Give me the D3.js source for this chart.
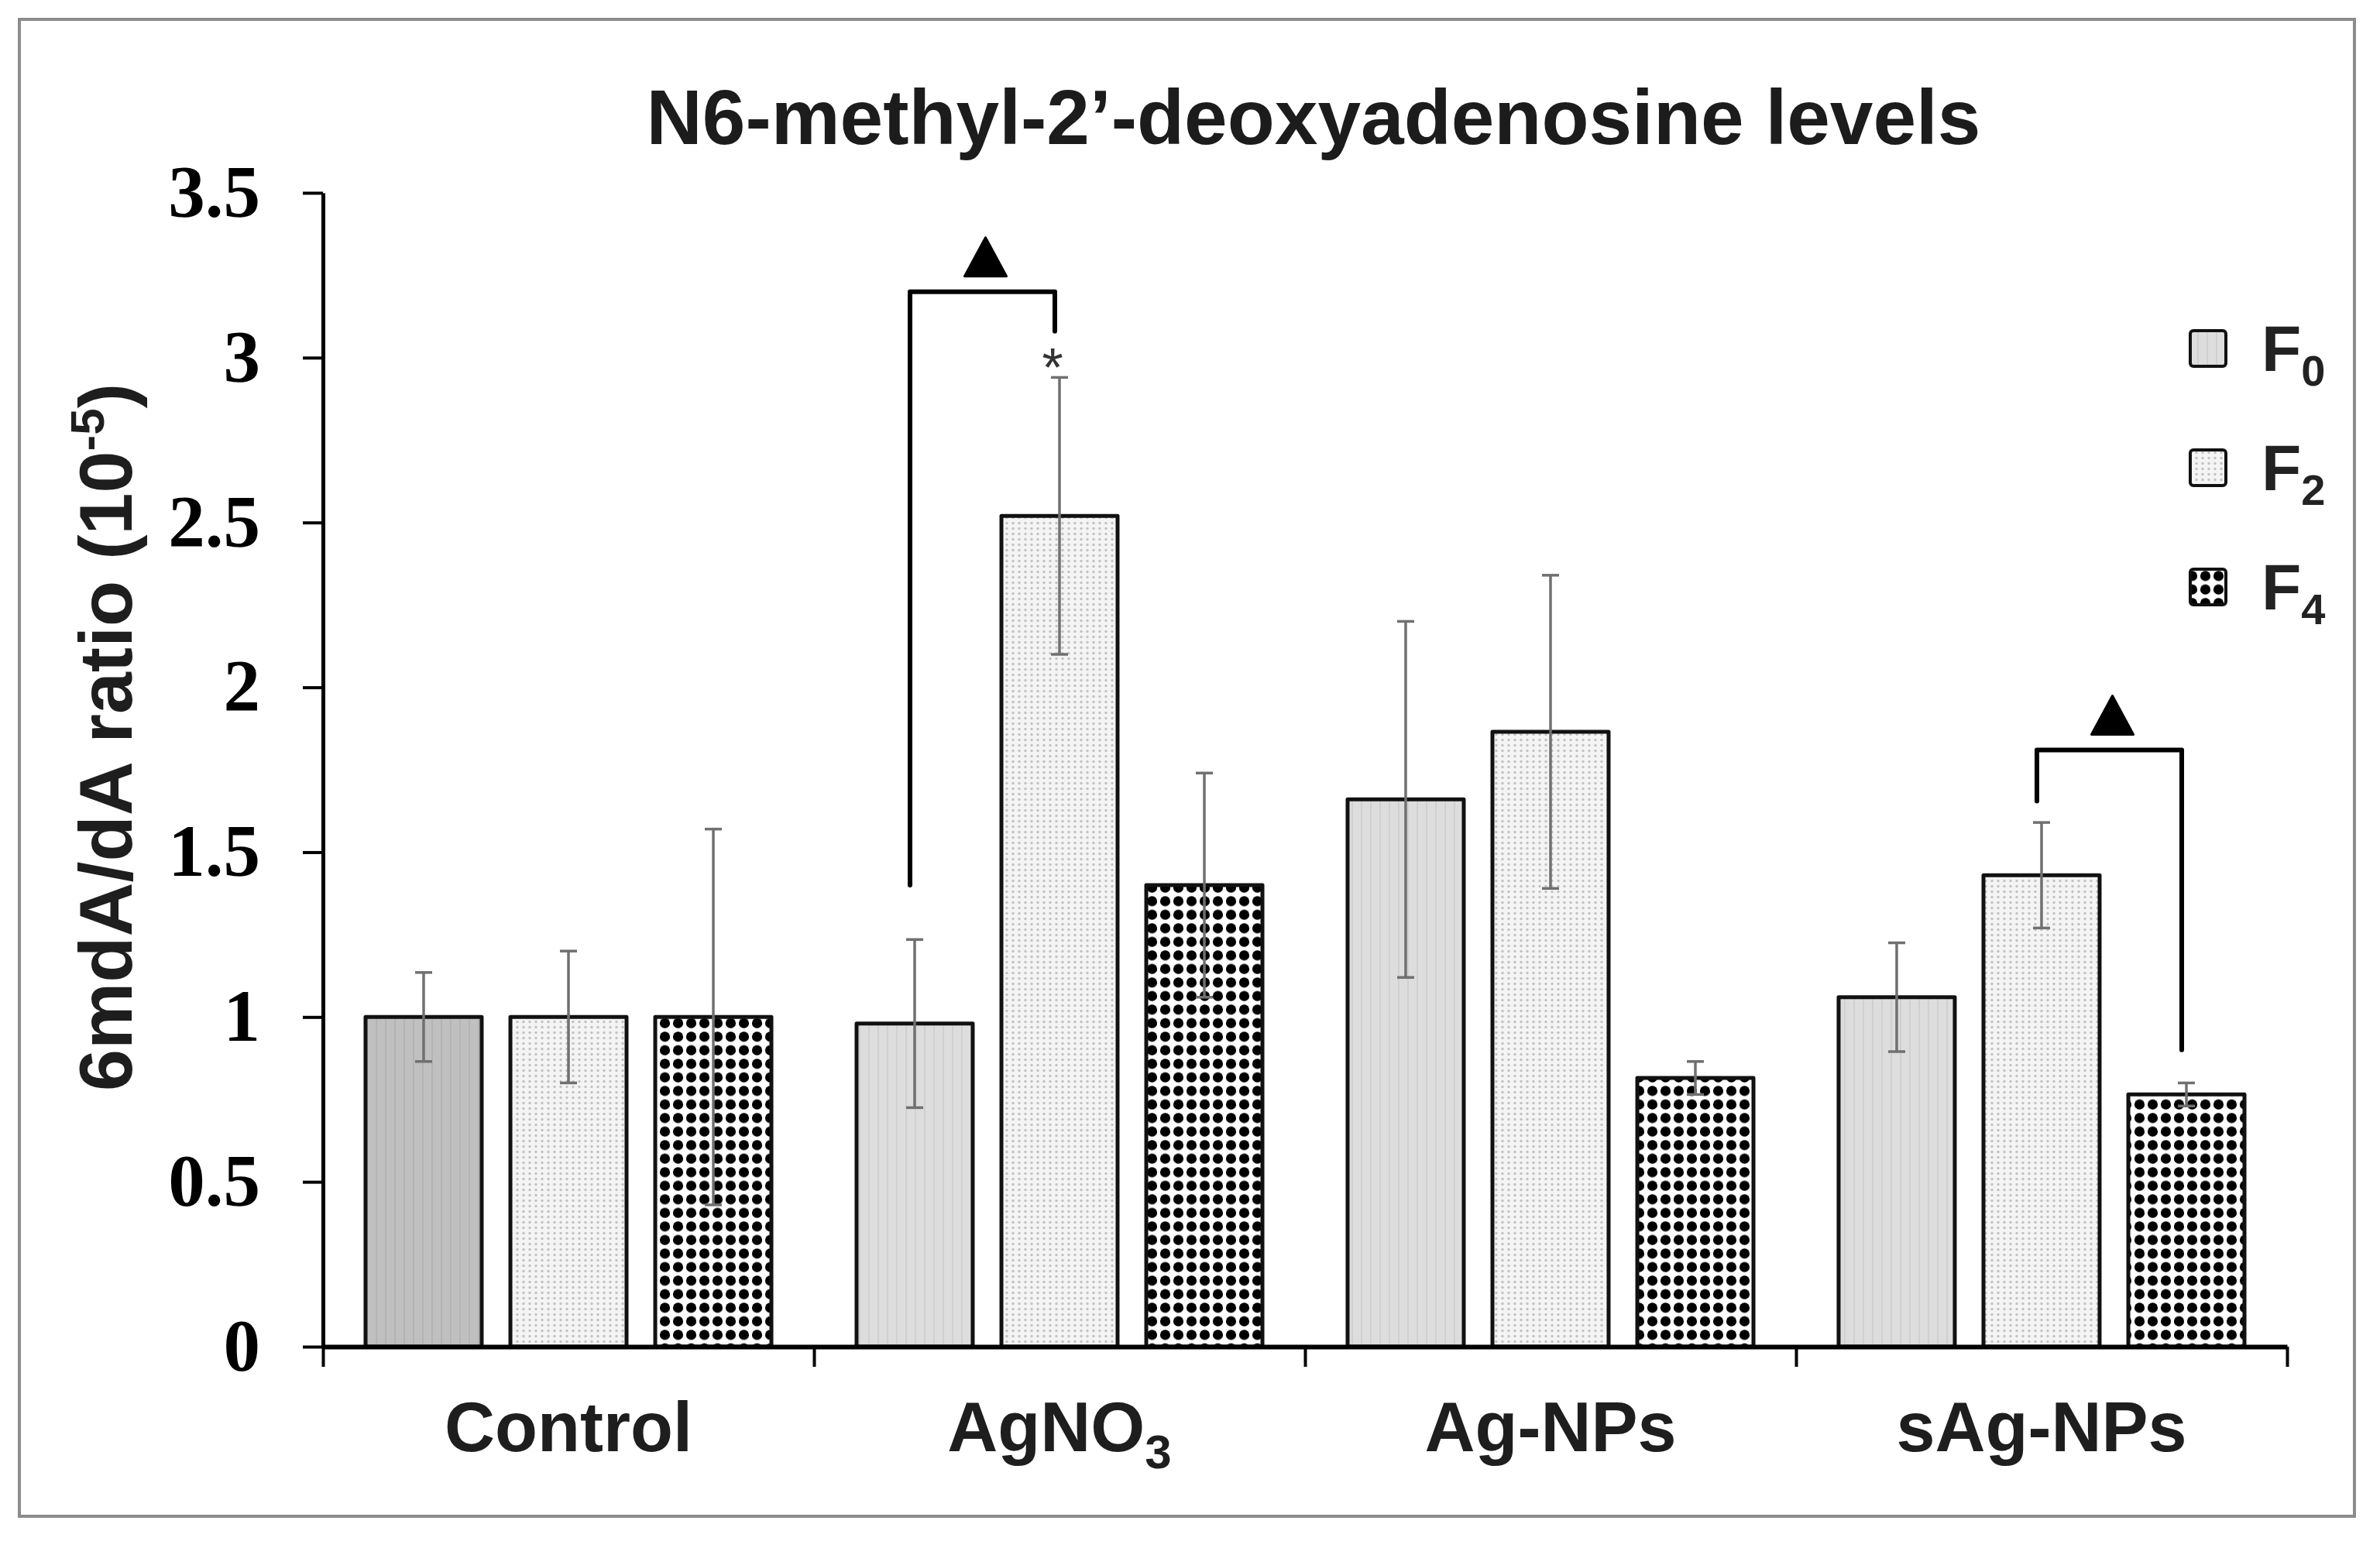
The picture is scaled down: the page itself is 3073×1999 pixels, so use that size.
<!DOCTYPE html>
<html>
<head>
<meta charset="utf-8">
<script src="https://cdn.jsdelivr.net/npm/d3@7"></script>
<style>
body { margin: 0; background: #fff; }
svg { display: block; }
</style>
</head>
<body>
<svg id="chart" width="3073" height="1999"></svg>
<script>
//DATA
const groups = ['Control', 'AgNO3', 'Ag-NPs', 'sAg-NPs'];
const groupSubs = ['', '3', '', ''];
const series = ['F0', 'F2', 'F4'];
const f0Values = [1.00, 0.98, 1.66, 1.06];
const f2Values = [1.00, 2.52, 1.865, 1.43];
const f4Values = [1.00, 1.40, 0.815, 0.765];
const f0Errors = [0.135, 0.255, 0.54, 0.165];
const f2Errors = [0.20, 0.42, 0.475, 0.16];
const f4Errors = [0.57, 0.34, 0.05, 0.035];
const yTicks = [0, 0.5, 1, 1.5, 2, 2.5, 3, 3.5];

//SIGNIFICANCE BRACKETS
const bracketGroups = ['AgNO3', 'sAg-NPs'];
const bracketFrom = ['F0', 'F2'];
const bracketTo = ['F2', 'F4'];
const bracketLeftEnd = [1.40, 1.655];
const bracketTop = [3.2, 1.81];
const bracketRightEnd = [3.08, 0.90];
//star over AgNO3 F2
const starGroup = 'AgNO3';
const starSeries = 'F2';

const valueTable = [f0Values, f2Values, f4Values];
const errorTable = [f0Errors, f2Errors, f4Errors];

const rows = [];
groups.forEach((g, i) => {
    series.forEach((s, j) => {
        rows.push({ group: g, series: s, value: valueTable[j][i], error: errorTable[j][i] });
    });
});

const svg = d3.select('#chart');
const font = "'Liberation Sans', Arial, sans-serif";
const serif = "'Liberation Serif', 'Times New Roman', serif";

//PATTERNS
const defs = svg.append('defs');

const stripe = (id, bg, line) => {
    const p = defs.append('pattern').attr('id', id)
        .attr('patternUnits', 'userSpaceOnUse').attr('width', 12).attr('height', 12);
    p.append('rect').attr('width', 12).attr('height', 12).attr('fill', bg);
    p.append('rect').attr('x', 5).attr('width', 2).attr('height', 12).attr('fill', line);
}
stripe('pat-f0', '#dddddd', '#d0d0d0');
stripe('pat-f0-ctrl', '#c0c0c0', '#b4b4b4');

const dots = defs.append('pattern').attr('id', 'pat-f2')
    .attr('patternUnits', 'userSpaceOnUse').attr('width', 8).attr('height', 7);
dots.append('rect').attr('width', 8).attr('height', 7).attr('fill', '#f4f4f4');
dots.append('circle').attr('cx', 4).attr('cy', 3.5).attr('r', 1.7).attr('fill', '#c2c2c2');

const bigDots = defs.append('pattern').attr('id', 'pat-f4')
    .attr('patternUnits', 'userSpaceOnUse').attr('width', 17).attr('height', 17.5);
bigDots.append('rect').attr('width', 17).attr('height', 17.5).attr('fill', '#fff');
bigDots.append('circle').attr('cx', 8.5).attr('cy', 8.75).attr('r', 6.6).attr('fill', '#000');

const fillFor = (g, s) => {
    if (s === 'F0') return g === 'Control' ? 'url(#pat-f0-ctrl)' : 'url(#pat-f0)';
    return s === 'F2' ? 'url(#pat-f2)' : 'url(#pat-f4)';
}

//OUTER FRAME
svg.append('rect')
    .attr('x', 25).attr('y', 25).attr('width', 3015).attr('height', 1933)
    .attr('fill', 'none').attr('stroke', '#8c8c8c').attr('stroke-width', 4);

//SCALES
const x0 = d3.scaleBand().domain(groups).range([417, 2953]).padding(0);
const x1 = d3.scaleBand().domain(series).range([0, x0.bandwidth()])
    .paddingInner(0.198).paddingOuter(0.294);
const y = d3.scaleLinear().domain([0, 3.5]).range([1739, 249]);
const barCenter = (g, s) => x0(g) + x1(s) + x1.bandwidth() / 2;

//TITLE
svg.append('text')
    .attr('x', 1696).attr('y', 186)
    .attr('text-anchor', 'middle')
    .style('font-family', font).style('font-weight', 'bold').style('font-size', '100px')
    .attr('fill', '#1c1c1c')
    .text('N6-methyl-2\u2019-deoxyadenosine levels');

//BARS
svg.append('g').selectAll('rect')
    .data(rows).join('rect')
    .attr('x', d => x0(d.group) + x1(d.series))
    .attr('y', d => y(d.value))
    .attr('width', x1.bandwidth())
    .attr('height', d => y(0) - y(d.value))
    .attr('fill', d => fillFor(d.group, d.series))
    .attr('stroke', '#111').attr('stroke-width', 5)
    .attr('stroke-linejoin', 'round');

//ERROR BARS
const err = svg.append('g').attr('stroke', '#707070').attr('stroke-width', 3.5);
rows.forEach(d => {
    const cx = barCenter(d.group, d.series);
    err.append('line').attr('x1', cx).attr('x2', cx)
        .attr('y1', y(d.value + d.error)).attr('y2', y(d.value - d.error));
    [d.value + d.error, d.value - d.error].forEach(v => {
        err.append('line').attr('x1', cx - 11).attr('x2', cx + 11)
            .attr('y1', y(v)).attr('y2', y(v));
    });
});

//Y AXIS
const yAxis = svg.append('g')
    .attr('transform', 'translate(417,0)')
    .call(d3.axisLeft(y).tickValues(yTicks).tickFormat(d => String(d))
        .tickSize(26).tickPadding(55).tickSizeOuter(0));
yAxis.select('.domain').attr('stroke', '#000').attr('stroke-width', 5);
yAxis.selectAll('.tick line').attr('stroke', '#000').attr('stroke-width', 4);
yAxis.selectAll('.tick text')
    .style('font-family', serif).style('font-weight', 'bold').style('font-size', '95px')
    .attr('fill', '#000');

//X AXIS (ticks on group boundaries)
const bounds = d3.scaleLinear().domain([0, groups.length]).range(x0.range());
const xAxis = svg.append('g')
    .attr('transform', `translate(0,${y(0)})`)
    .call(d3.axisBottom(bounds).tickValues(d3.range(groups.length + 1)).tickSize(26).tickFormat('').tickSizeOuter(0));
xAxis.select('.domain').attr('stroke', '#000').attr('stroke-width', 6);
xAxis.selectAll('.tick line').attr('stroke', '#000').attr('stroke-width', 4);

//CATEGORY LABELS
groups.forEach((g, i) => {
    const sub = groupSubs[i];
    const t = svg.append('text')
        .attr('x', x0(g) + x0.bandwidth() / 2).attr('y', 1874)
        .attr('text-anchor', 'middle')
        .style('font-family', font).style('font-weight', 'bold').style('font-size', '90px')
        .attr('fill', '#1e1e1e');
    t.append('tspan').text(sub ? g.slice(0, -sub.length) : g);
    if (sub) t.append('tspan').attr('dy', 22).style('font-size', '62px').text(sub);
});

//Y AXIS TITLE
const yTitle = svg.append('text')
    .attr('transform', 'translate(170,952) rotate(-90)')
    .attr('text-anchor', 'middle')
    .style('font-family', font).style('font-weight', 'bold').style('font-size', '97px')
    .attr('fill', '#1e1e1e');
yTitle.append('tspan').text('6mdA/dA ratio (10');
yTitle.append('tspan').attr('dy', -36).style('font-size', '62px').text('-5');
yTitle.append('tspan').attr('dy', 36).text(')');

//BRACKETS + TRIANGLES
const br = svg.append('g');
bracketGroups.forEach((g, i) => {
    const xl = barCenter(g, bracketFrom[i]) - 6;
    const xr = barCenter(g, bracketTo[i]) - 6;
    const yt = y(bracketTop[i]);
    br.append('path')
        .attr('d', `M${xl},${y(bracketLeftEnd[i])}V${yt}H${xr}V${y(bracketRightEnd[i])}`)
        .attr('fill', 'none').attr('stroke', '#000').attr('stroke-width', 6)
        .attr('stroke-linejoin', 'round').attr('stroke-linecap', 'round');
    const mx = (xl + xr) / 2 + 4;
    const tb = yt - 20;
    br.append('path')
        .attr('d', `M${mx - 27},${tb}L${mx + 27},${tb}L${mx},${tb - 50}Z`)
        .attr('fill', '#000').attr('stroke', '#000').attr('stroke-width', 3)
        .attr('stroke-linejoin', 'round');
});

//STAR
const si = groups.indexOf(starGroup);
const sj = series.indexOf(starSeries);
svg.append('text')
    .attr('x', barCenter(starGroup, starSeries) - 9)
    .attr('y', y(valueTable[sj][si] + errorTable[sj][si]) + 12)
    .attr('text-anchor', 'middle')
    .style('font-family', font).style('font-size', '70px')
    .attr('fill', '#333')
    .text('*');

//LEGEND
const legend = svg.append('g');
series.forEach((s, i) => {
    const base = 479 + i * 154;
    legend.append('rect')
        .attr('x', 2828).attr('y', base - 52).attr('width', 46).attr('height', 46)
        .attr('rx', 4)
        .attr('fill', s === 'F0' ? 'url(#pat-f0)' : fillFor('', s))
        .attr('stroke', '#111').attr('stroke-width', 4);
    const t = legend.append('text')
        .attr('x', 2920).attr('y', base)
        .style('font-family', font).style('font-weight', 'bold').style('font-size', '84px')
        .attr('fill', '#222');
    t.append('tspan').text(s[0]);
    t.append('tspan').attr('dy', 19).style('font-size', '56px').text(s.slice(1));
});
</script>
</body>
</html>
